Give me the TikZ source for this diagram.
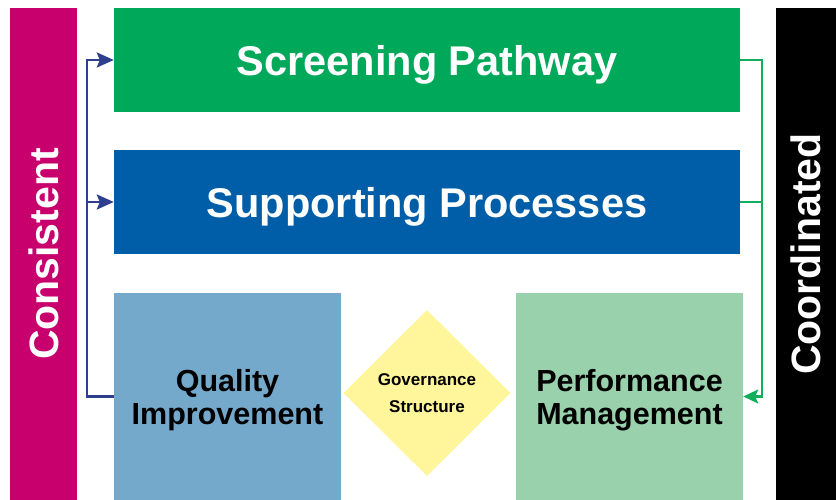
\documentclass[tikz,border=0pt]{standalone}
\usepackage{fontspec}
\setmainfont{Liberation Sans}
\usetikzlibrary{shapes.geometric,arrows.meta}

\definecolor{consmag}{HTML}{C8006E}
\definecolor{screengreen}{HTML}{00A859}
\definecolor{supblue}{HTML}{005EA8}
\definecolor{qiblue}{HTML}{74A9CB}
\definecolor{pmgreen}{HTML}{98D1AC}
\definecolor{govyellow}{HTML}{FFF59A}
\definecolor{linkblue}{HTML}{2E3F8F}
\definecolor{linkgreen}{HTML}{13AE5C}

\begin{document}
\begin{tikzpicture}[x=1pt, y=-1pt,
  box/.style={inner sep=0pt, align=center, text depth=0pt, font=\bfseries},
  wide/.style={box, minimum width=626pt, minimum height=104pt, text=white, font=\fontsize{41.5}{44}\bfseries},
  square/.style={box, minimum width=227pt, minimum height=207pt, font=\fontsize{30.5}{33}\bfseries},
  sidebar/.style={box, rotate=90, minimum width=492pt, text=white, font=\fontsize{41}{44}\bfseries},
  lline/.style={draw=linkblue, line width=2.6pt, -{Stealth[length=17pt,width=15pt,inset=3pt]}},
  rline/.style={draw=linkgreen, line width=2.2pt, -{Stealth[length=15pt,width=14pt,inset=3pt]}}]
  \useasboundingbox (0,0) rectangle (836,500);

  % side bars
  \node[sidebar, fill=consmag, minimum height=67pt] (cons) at (43.5,254) {Consistent};
  \node[sidebar, fill=black, minimum height=60pt] (coord) at (806,254) {Coordinated};

  % main boxes
  \node[wide, fill=screengreen] (screen) at (427,60) {Screening Pathway};
  \node[wide, fill=supblue] (support) at (427,202) {Supporting Processes};
  \node[square, fill=qiblue] (qi) at (227.5,396.5) {Quality\\Improvement};
  \node[square, fill=pmgreen] (perf) at (629.5,396.5) {Performance\\Management};
  \node[diamond, aspect=1, fill=govyellow, inner sep=0pt, minimum width=167pt, minimum height=166pt,
    align=center, text depth=0pt, font=\fontsize{17}{27}\bfseries] (gov) at (427,393) {Governance\\Structure};

  % connectors
  \coordinate (lbus) at (87,0);
  \coordinate (rbus) at (762,0);
  \draw[lline] (qi.west) -- (qi.west -| lbus) |- (screen.west);
  \draw[lline] (support.west -| lbus) -- (support.west);
  \draw[rline] (screen.east) -- (screen.east -| rbus) |- (perf.east);
  \draw[draw=linkgreen, line width=2.2pt] (support.east) -- (support.east -| rbus);
\end{tikzpicture}
\end{document}
